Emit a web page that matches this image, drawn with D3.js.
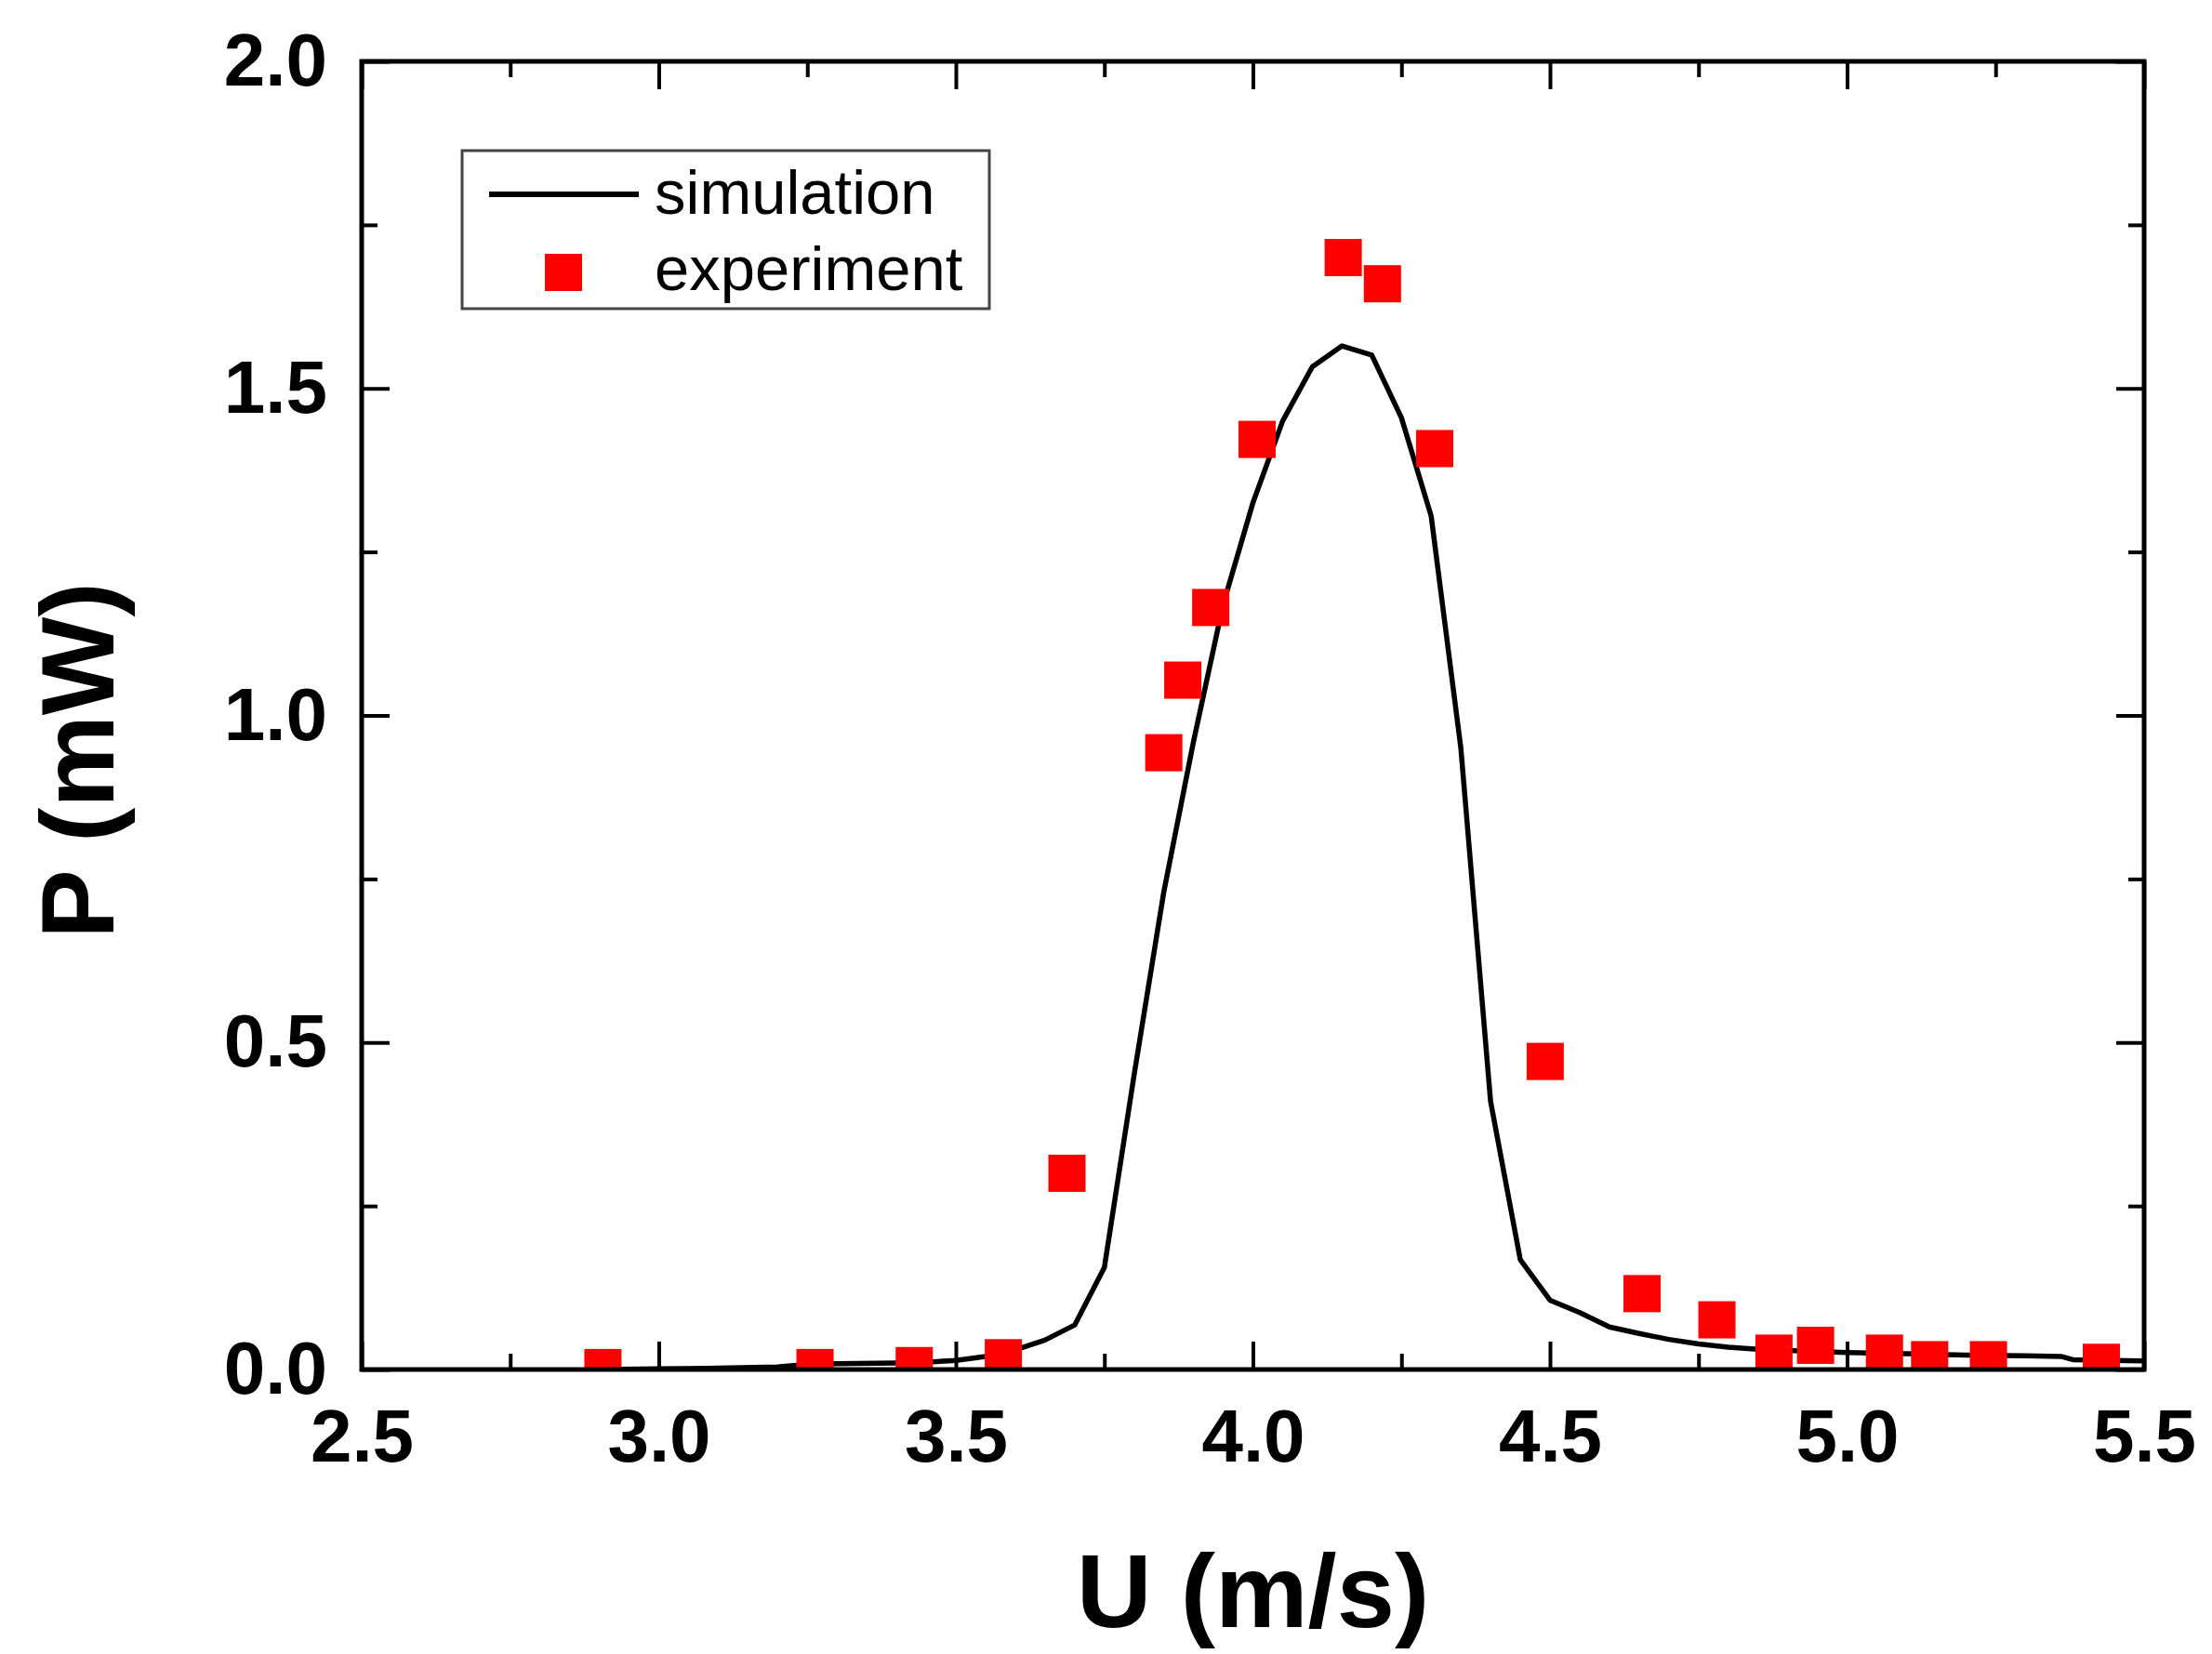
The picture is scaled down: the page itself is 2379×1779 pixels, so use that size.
<!DOCTYPE html>
<html>
<head>
<meta charset="utf-8">
<script src="https://cdn.jsdelivr.net/npm/d3@7"></script>
<style>
  body { margin: 0; background: #fff; }
  svg text { font-family: "Liberation Sans", Arial, sans-serif; }
</style>
</head>
<body>
<div id="chart"></div>
<script>
// simulation curve
const simU = [2.90, 3.00, 3.10, 3.20, 3.25, 3.30, 3.40, 3.45, 3.50, 3.55, 3.60, 3.65, 3.70, 3.75,
  3.80, 3.85, 3.90, 3.95, 4.00, 4.05, 4.10, 4.15, 4.20, 4.25, 4.30, 4.35, 4.40, 4.45, 4.50,
  4.55, 4.60, 4.65, 4.70, 4.75, 4.80, 4.85, 4.90, 5.00, 5.10, 5.20, 5.30, 5.36, 5.38, 5.50]
const simP = [0.000, 0.001, 0.002, 0.004, 0.008, 0.009, 0.010, 0.011, 0.014, 0.020, 0.030, 0.045, 0.068, 0.156,
  0.45, 0.73, 0.96, 1.17, 1.325, 1.45, 1.533, 1.565, 1.551, 1.455, 1.305, 0.95, 0.41, 0.168, 0.106,
  0.087, 0.065, 0.055, 0.046, 0.039, 0.034, 0.031, 0.029, 0.026, 0.024, 0.022, 0.021, 0.020, 0.015, 0.013]

// experiment points
const expU = [2.906, 3.263, 3.430, 3.580, 3.687, 3.850, 3.882, 3.929, 4.007, 4.152, 4.218, 4.306,
  4.492, 4.655, 4.781, 4.877, 4.947, 5.063, 5.139, 5.238, 5.428]
const expP = [0.003, 0.003, 0.006, 0.018, 0.300, 0.943, 1.054, 1.165, 1.422, 1.700, 1.660, 1.408,
  0.471, 0.116, 0.076, 0.025, 0.037, 0.025, 0.015, 0.015, 0.011]

const xTicks = [2.5, 3.0, 3.5, 4.0, 4.5, 5.0, 5.5]
const xMinor = [2.75, 3.25, 3.75, 4.25, 4.75, 5.25]
const yTicks = [0.0, 0.5, 1.0, 1.5, 2.0]
const yMinor = [0.25, 0.75, 1.25, 1.75]

const legendLabels = ['simulation', 'experiment']

const dims = {
  width: 2379,
  height: 1779,
  margin: { top: 66, bottom: 306, left: 389, right: 73 }
}
dims.ctrWidth = dims.width - dims.margin.left - dims.margin.right
dims.ctrHeight = dims.height - dims.margin.top - dims.margin.bottom

const svg = d3.select('#chart')
  .append('svg')
  .attr('width', dims.width)
  .attr('height', dims.height)

const ctr = svg.append('g')
  .attr('transform', `translate(${dims.margin.left}, ${dims.margin.top})`)

const xScale = d3.scaleLinear().domain([2.5, 5.5]).range([0, dims.ctrWidth])
const yScale = d3.scaleLinear().domain([0, 2.0]).range([dims.ctrHeight, 0])

svg.append('defs').append('clipPath').attr('id', 'plotClip')
  .append('rect')
  .attr('width', dims.ctrWidth)
  .attr('height', dims.ctrHeight)

const fmt = d3.format('.1f')

// axes (ticks point inwards, mirrored on top/right)
const styleAxis = (g, fontSize) => {
  g.select('.domain').remove()
  g.selectAll('line').attr('stroke', '#000').attr('stroke-width', 4)
  g.selectAll('text')
    .style('font-size', fontSize + 'px')
    .style('font-weight', 'bold')
    .attr('fill', '#000')
}

const bottom = ctr.append('g')
  .attr('transform', `translate(0, ${dims.ctrHeight})`)
  .call(d3.axisBottom(xScale).tickValues(xTicks).tickFormat(fmt).tickSize(-30).tickSizeOuter(0).tickPadding(42))
bottom.call(g => styleAxis(g, 80))
ctr.append('g')
  .attr('transform', `translate(0, ${dims.ctrHeight})`)
  .call(d3.axisBottom(xScale).tickValues(xMinor).tickFormat('').tickSize(-17).tickSizeOuter(0))
  .call(g => styleAxis(g, 0))

ctr.append('g')
  .call(d3.axisTop(xScale).tickValues(xTicks).tickFormat('').tickSize(-30).tickSizeOuter(0))
  .call(g => styleAxis(g, 0))
ctr.append('g')
  .call(d3.axisTop(xScale).tickValues(xMinor).tickFormat('').tickSize(-17).tickSizeOuter(0))
  .call(g => styleAxis(g, 0))

const left = ctr.append('g')
  .call(d3.axisLeft(yScale).tickValues(yTicks).tickFormat(fmt).tickSize(-30).tickSizeOuter(0).tickPadding(37))
left.call(g => styleAxis(g, 80))
ctr.append('g')
  .call(d3.axisLeft(yScale).tickValues(yMinor).tickFormat('').tickSize(-17).tickSizeOuter(0))
  .call(g => styleAxis(g, 0))

ctr.append('g')
  .attr('transform', `translate(${dims.ctrWidth}, 0)`)
  .call(d3.axisRight(yScale).tickValues(yTicks).tickFormat('').tickSize(-30).tickSizeOuter(0))
  .call(g => styleAxis(g, 0))
ctr.append('g')
  .attr('transform', `translate(${dims.ctrWidth}, 0)`)
  .call(d3.axisRight(yScale).tickValues(yMinor).tickFormat('').tickSize(-17).tickSizeOuter(0))
  .call(g => styleAxis(g, 0))

// data
const plot = ctr.append('g').attr('clip-path', 'url(#plotClip)')

const simData = simU.map((u, i) => ({ u, p: simP[i] }))
const expData = expU.map((u, i) => ({ u, p: expP[i] }))

const line = d3.line()
  .x(d => xScale(d.u))
  .y(d => yScale(d.p))

plot.append('path')
  .datum(simData)
  .attr('d', line)
  .attr('fill', 'none')
  .attr('stroke', '#000')
  .attr('stroke-width', 5.5)
  .attr('stroke-linejoin', 'round')

const sq = 40
plot.selectAll('rect.pt')
  .data(expData)
  .join('rect')
  .attr('class', 'pt')
  .attr('x', d => xScale(d.u) - sq / 2)
  .attr('y', d => yScale(d.p) - sq / 2)
  .attr('width', sq)
  .attr('height', sq)
  .attr('fill', '#ff0000')

// frame
ctr.append('rect')
  .attr('width', dims.ctrWidth)
  .attr('height', dims.ctrHeight)
  .attr('fill', 'none')
  .attr('stroke', '#000')
  .attr('stroke-width', 5)

// axis titles
svg.append('text')
  .text('U (m/s)')
  .attr('x', dims.margin.left + dims.ctrWidth / 2)
  .attr('y', 1750)
  .attr('text-anchor', 'middle')
  .style('font-size', '112px')
  .style('font-weight', 'bold')

svg.append('text')
  .text('P (mW)')
  .attr('transform', 'translate(122, 818) rotate(-90)')
  .attr('text-anchor', 'middle')
  .style('font-size', '112px')
  .style('font-weight', 'bold')

// legend
const legend = svg.append('g')
legend.append('rect')
  .attr('x', 497).attr('y', 162)
  .attr('width', 567).attr('height', 170)
  .attr('fill', '#fff')
  .attr('stroke', '#444')
  .attr('stroke-width', 3)

legend.append('line')
  .attr('x1', 526).attr('x2', 687)
  .attr('y1', 209).attr('y2', 209)
  .attr('stroke', '#000')
  .attr('stroke-width', 6)

legend.append('rect')
  .attr('x', 586).attr('y', 273)
  .attr('width', sq).attr('height', sq)
  .attr('fill', '#ff0000')

legend.selectAll('text.lg')
  .data(legendLabels)
  .join('text')
  .attr('class', 'lg')
  .text(d => d)
  .attr('x', 704)
  .attr('y', (d, i) => i === 0 ? 230 : 312)
  .style('font-size', '67px')
  .attr('fill', '#000')
</script>
</body>
</html>
